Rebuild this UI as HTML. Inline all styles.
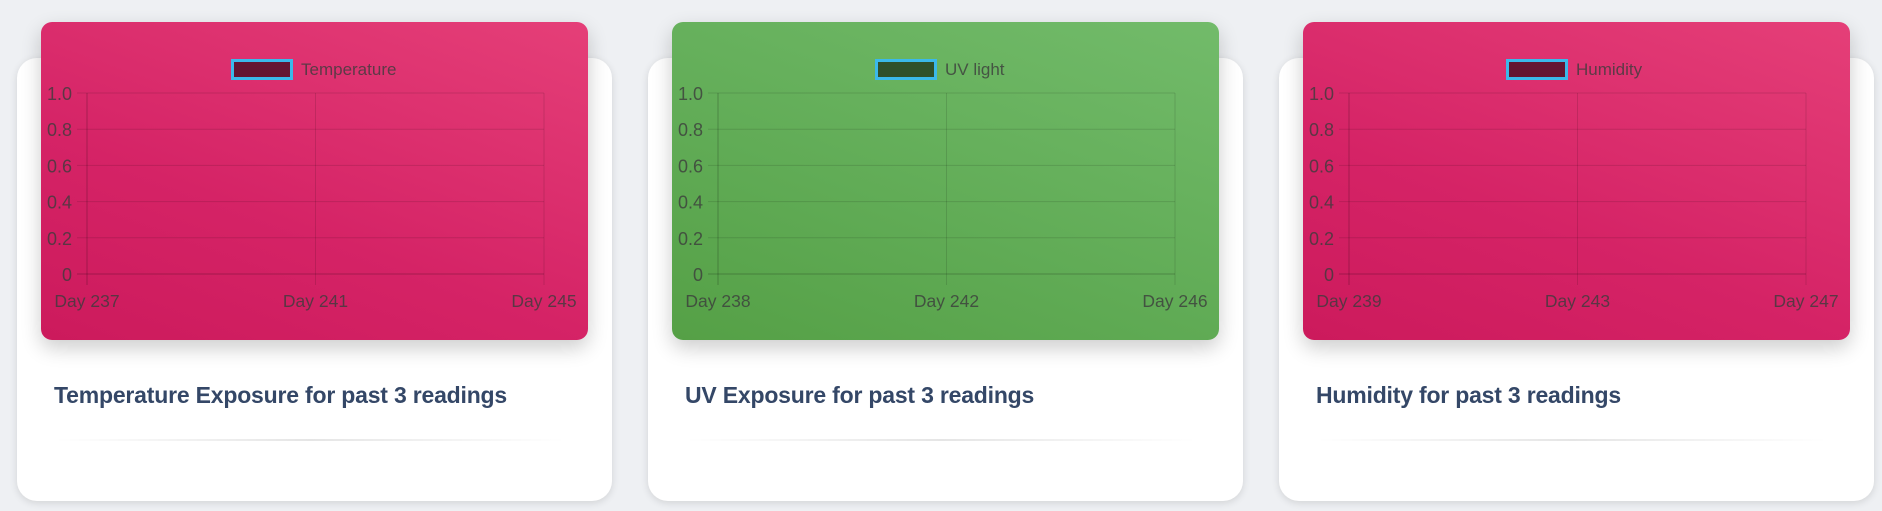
<!DOCTYPE html>
<html><head><meta charset="utf-8"><style>
body{margin:0;width:1882px;height:511px;background:#eef0f3;font-family:"Liberation Sans",sans-serif;position:relative;overflow:hidden}
.card{position:absolute;top:58px;width:595px;height:443px;background:#fff;border-radius:20px;box-shadow:0 2px 8px rgba(0,0,0,.12)}
.hdr{position:absolute;top:22px;width:547px;height:318px;border-radius:11px;box-shadow:0 8px 20px rgba(0,0,0,.2)}
.pink{background:linear-gradient(200deg,#e53f78,#d52366 60%,#cc1a5c)}
.green{background:linear-gradient(200deg,#72bb6a,#60ab55 60%,#55a046)}
.hdr svg{position:absolute;left:0;top:0}
.title{position:absolute;top:382px;font-size:23px;font-weight:bold;color:#344767;font-family:"Liberation Sans",sans-serif;letter-spacing:-.2px}
.div{position:absolute;top:439px;width:512px;height:2px;background:linear-gradient(90deg,rgba(0,0,0,0),rgba(0,0,0,.1),rgba(0,0,0,0))}
</style></head><body>
<div class="card" style="left:17px"></div>
<div class="card" style="left:648px"></div>
<div class="card" style="left:1279px"></div>
<div class="hdr pink" id="c0" style="left:41px"></div>
<div class="hdr green" id="c1" style="left:672px"></div>
<div class="hdr pink" id="c2" style="left:1303px"></div>
<div class="title" style="left:54px">Temperature Exposure for past 3 readings</div>
<div class="title" style="left:685px">UV Exposure for past 3 readings</div>
<div class="title" style="left:1316px">Humidity for past 3 readings</div>
<div class="div" style="left:54px"></div>
<div class="div" style="left:685px"></div>
<div class="div" style="left:1316px"></div>
<script>
const seriesNames = ["Temperature","UV light","Humidity"];
const tempLabels = ["Day 237","Day 241","Day 245"];
const uvLabels = ["Day 238","Day 242","Day 246"];
const humLabels = ["Day 239","Day 243","Day 247"];
const tempValues = [];
const uvValues = [];
const humValues = [];
const yTicks = [0,0.2,0.4,0.6,0.8,1.0];
const yTickLabels = ["0","0.2","0.4","0.6","0.8","1.0"];
const allLabels=[tempLabels,uvLabels,humLabels];
const allValues=[tempValues,uvValues,humValues];
const NS="http://www.w3.org/2000/svg";
function mk(t,a,p){const e=document.createElementNS(NS,t);for(const k in a)e.setAttribute(k,a[k]);p.appendChild(e);return e;}
for(let c=0;c<3;c++){
  const host=document.getElementById('c'+c);
  const svg=mk('svg',{width:547,height:318},host);
  const L=46,R=503,T=71,B=252;
  const labels=allLabels[c],vals=allValues[c];
  const xs=i=>L+(R-L)*i/(labels.length-1);
  const ys=v=>B-(B-T)*v/1.0;
  const grid='rgba(0,0,0,0.12)',txt='rgba(60,60,60,0.8)';
  yTicks.forEach((v,i)=>{
    const l=mk('line',{x1:L-10,x2:R,y1:ys(v),y2:ys(v),stroke:v===0?'rgba(0,0,0,0.22)':grid,'stroke-width':1},svg);
    
    
    const t=mk('text',{x:L-15,y:ys(v)+7,'text-anchor':'end','font-size':18,fill:txt,'font-family':'Liberation Sans, sans-serif'},svg);
    t.textContent=yTickLabels[i];
    
    
  });
  labels.forEach((lab,i)=>{
    const l=mk('line',{x1:xs(i),x2:xs(i),y1:T,y2:B+11,stroke:i===0?'rgba(0,0,0,0.22)':grid,'stroke-width':1},svg);
    
    
    const t=mk('text',{x:xs(i),y:B+33,'text-anchor':'middle','font-size':17.5,fill:txt,'font-family':'Liberation Sans, sans-serif'},svg);
    t.textContent=lab;
    
    
  });
  if(vals.length){
    const p=mk('polyline',{points:vals.map((v,i)=>xs(i)+','+ys(v)).join(' '),fill:'none',stroke:'rgba(0,0,0,0.5)','stroke-width':2},svg);
    
    
  }
  const name=seriesNames[c];
  const tw=name.length*8.8;
  const bx=Math.round(273.5-(70+tw)/2);
  const box=mk('rect',{x:bx+1.5,y:38.5,width:59,height:18,fill:'rgba(0,0,0,0.55)',stroke:'#3bb9ea','stroke-width':3},svg);
  
  
  const lt=mk('text',{x:bx+70,y:53,'font-size':17,fill:txt,'font-family':'Liberation Sans, sans-serif'},svg);
  lt.textContent=name;
  
  
}
</script>
</body></html>
